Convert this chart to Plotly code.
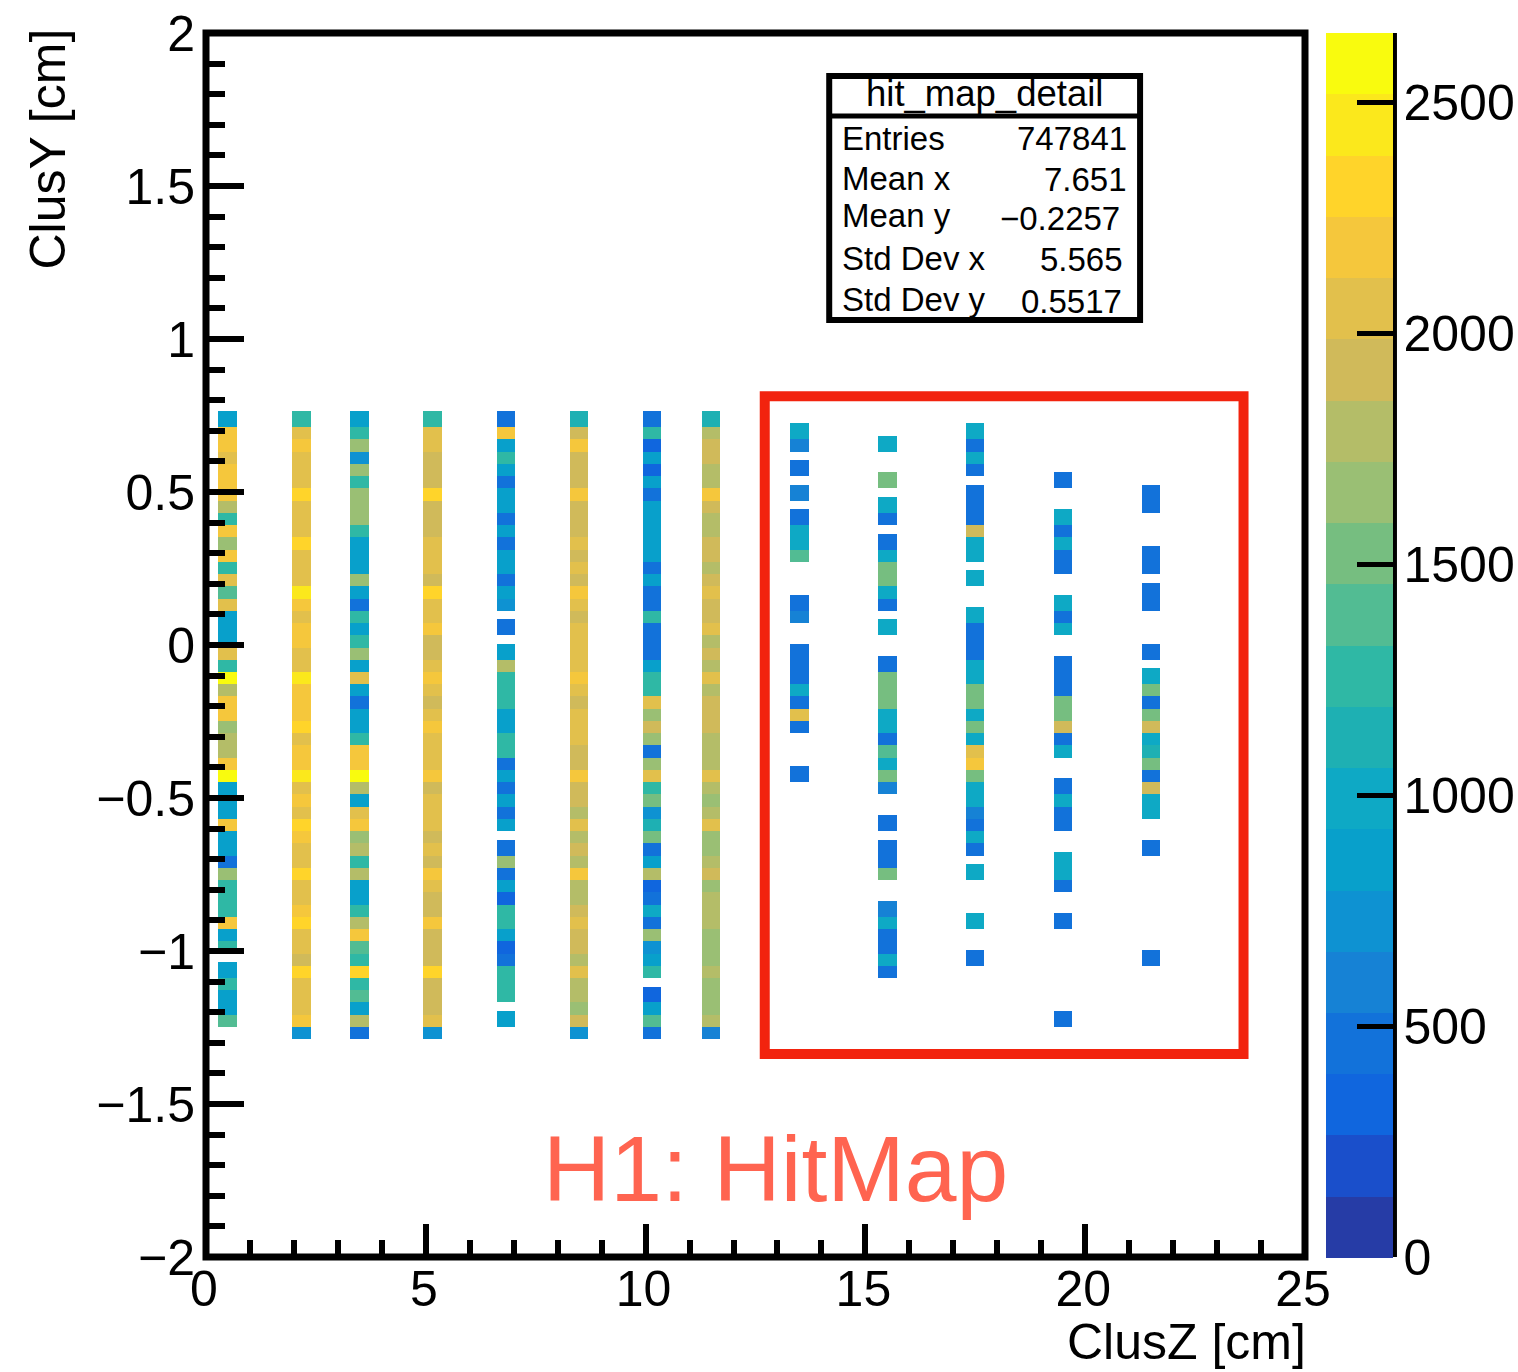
import plotly.graph_objects as go

W, H = 1518, 1372
L, R, T, B = 205.5, 1305.0, 33.0, 1257.5
FONT = "Liberation Sans"

# Detector columns (ClusZ, cm) and counts per ClusY row (top row first)
column_z = [0.49, 2.17, 3.49, 5.15, 6.83, 8.49, 10.15, 11.49, 13.5, 15.5, 17.5, 19.5, 21.5]
n = None
col_01 = [860,2190,2190,2055,2190,2190,2190,1790,1260,2190,1660,2190,1260,2055,1390,2055,860,860,860,2055,1260,2585,1790,2190,2190,1660,1790,1790,2190,2585,860,860,860,2190,860,860,465,1660,1260,1260,1260,2190,860,1260,n,860,1260,860,860,1390,n]
col_02 = [1260,2055,2190,2055,2055,2055,2320,2055,2055,2055,2320,2055,2055,2055,2455,2190,2055,2190,2190,2055,2055,2455,2190,2190,2190,2320,2055,2190,2190,2455,2055,2190,2055,2320,2190,2055,2055,2320,2055,2055,2190,2320,2055,2055,1925,2320,2055,2055,2055,2190,730]
col_03 = [860,1260,1660,730,1660,1260,1660,1660,1660,1260,860,860,860,1660,860,465,1260,860,1260,1660,860,2055,860,465,860,860,1260,2190,2190,2585,1790,860,2055,2190,1660,1790,1260,1790,860,860,1260,1790,2190,1390,1260,2320,1260,1390,860,1790,465]
col_04 = [1260,2055,2055,1925,1925,1925,2320,1925,1925,1925,2055,2055,2055,1925,2320,2055,2055,2190,1925,1925,2055,2190,2055,1925,2055,2190,2055,2055,2055,2190,1925,2055,2055,2055,1925,2055,1925,2190,2055,1925,1925,2190,1925,1925,1925,2320,1925,1925,1925,2055,730]
col_05 = [465,2190,860,1260,860,465,860,860,465,860,465,860,860,465,860,730,n,465,n,860,1790,1260,1260,1260,860,860,1260,1260,465,860,465,860,465,860,n,465,1660,465,860,330,1260,1260,860,330,465,1260,1260,1260,n,860,n]
col_06 = [1125,1925,2190,1925,1925,1925,2190,1925,1925,1925,2055,1925,2055,1925,2190,2055,1925,2055,2055,2055,2055,2190,2055,1925,2055,2055,2055,1925,1925,2190,1925,1925,1790,2055,1790,1925,1790,2190,1790,1790,1925,2055,1925,1925,1790,2055,1790,1790,1660,1925,730]
col_07 = [465,1260,330,860,330,860,465,860,860,860,860,860,465,860,465,465,1260,465,465,465,860,1260,1260,2055,1660,1925,1660,465,1660,2055,1260,1525,730,1125,1525,465,860,1790,330,465,995,465,1660,730,860,1260,n,330,860,1390,465]
col_08 = [1125,1790,1925,1925,1790,1790,2190,1925,1790,1790,1925,1925,1790,1925,2055,1925,1925,2055,1790,1925,1790,2055,1790,1925,1925,1925,1790,1790,1790,2055,1790,1660,1790,2055,1660,1660,1790,1925,1660,1790,1790,1790,1660,1660,1660,1790,1660,1660,1660,1790,595]
col_09 = [n,995,595,n,465,n,595,n,465,995,995,1390,n,n,n,465,595,n,n,465,465,465,995,465,2055,465,n,n,n,465,n,n,n,n,n,n,n,n,n,n,n,n,n,n,n,n,n,n,n,n,n]
col_10 = [n,n,995,n,n,1525,n,995,465,n,465,995,1525,1525,995,465,n,995,n,n,465,1525,1525,1525,995,995,465,1390,995,1525,595,n,n,465,n,465,465,1525,n,n,595,995,465,465,995,465,n,n,n,n,n]
col_11 = [n,995,465,995,465,n,465,465,465,1925,995,995,n,995,n,n,995,465,465,465,995,995,1525,1525,995,1525,995,2055,2190,1525,995,995,595,465,995,465,n,995,n,n,n,995,n,n,465,n,n,n,n,n,n]
col_12 = [n,n,n,n,n,465,n,n,995,465,995,465,465,n,n,995,465,995,n,n,465,465,465,1525,1525,1925,465,995,n,n,465,995,465,465,n,n,995,995,465,n,n,465,n,n,n,n,n,n,n,465,n]
col_13 = [n,n,n,n,n,n,465,465,n,n,n,465,465,n,465,465,n,n,n,465,n,995,1525,465,1525,1925,995,1125,1525,465,1925,995,995,n,n,465,n,n,n,n,n,n,n,n,465,n,n,n,n,n,n]
columns = [col_01, col_02, col_03, col_04, col_05, col_06, col_07, col_08, col_09, col_10, col_11, col_12, col_13]

row_pitch = 0.04
row_top = 0.7640
cell_height = 0.0522
cell_width = 0.416

# 20-level palette, bottom to top of the colour bar
palette = ["#263CA6","#1A4FCB","#1066DE","#1272DA","#1682D5","#0E92D2","#08A0CB","#0EA9C5","#1EB0B3","#2FB8A5",
           "#52BC93","#76BE80","#9ABF74","#B4BD68","#D0BA5A","#E2C04C","#F5C73C","#FFD42A","#FBE81C","#F9FB0E"]
z_max = 2652
scale = []
for i, c in enumerate(palette):
    scale += [[i / 20, c], [(i + 1) / 20, c]]

stats_title = "hit_map_detail"
stats_names = ["Entries", "Mean x", "Mean y", "Std Dev x", "Std Dev y"]
stats_values = ["747841", "7.651", "\u22120.2257", "5.565", "0.5517"]


def px(x):
    return (x - L) / (R - L)


def py(y):
    return (B - y) / (B - T)


fig = go.Figure()
for z, counts in zip(column_z, columns):
    rows = [k for k, v in enumerate(counts) if v is not None][::-1]  # upper cells paint over lower ones
    fig.add_trace(go.Bar(
        x=[z] * len(rows),
        y=[cell_height] * len(rows),
        base=[row_top - row_pitch * k - cell_height for k in rows],
        width=cell_width,
        marker=dict(color=[counts[k] for k in rows], coloraxis="coloraxis", line=dict(width=0)),
        showlegend=False,
    ))

shapes = [
    dict(type="rect", xref="paper", yref="paper", x0=0, x1=1, y0=0, y1=1, line=dict(color="black", width=7), layer="above"),
    dict(type="line", xref="paper", yref="paper", x0=px(1394), x1=px(1394), y0=0, y1=1, line=dict(color="black", width=6), layer="above"),
    dict(type="rect", xref="paper", yref="paper", x0=px(764.5), x1=px(1243.5), y0=py(1054.5), y1=py(396.5), line=dict(color="#F2230E", width=10), layer="above"),
    dict(type="rect", xref="paper", yref="paper", x0=px(829), x1=px(1140), y0=py(320), y1=py(76), line=dict(color="black", width=6), fillcolor="white", layer="above"),
    dict(type="line", xref="paper", yref="paper", x0=px(829), x1=px(1140), y0=py(116), y1=py(116), line=dict(color="black", width=5), layer="above"),
]


def note(text, x, y, size, anchor="left", color="black", angle=0, yanchor="middle"):
    return dict(text=text, xref="paper", yref="paper", x=px(x), y=py(y), xanchor=anchor, yanchor=yanchor,
                showarrow=False, textangle=angle, font=dict(family=FONT, size=size, color=color))


annotations = [
    note("ClusZ [cm]", 1308, 1343, 50, "right"),
    note("ClusY [cm]", 47, 149, 50, "center", angle=-90),
    note("H1: HitMap", 775, 1169, 93, "center", "#FF6450"),
    note(stats_title, 984, 94, 36.5, "center"),
]
name_y = [139, 179, 216, 259, 300]
value_y = [139, 180, 219, 260, 302]
value_x = [1129, 1129, 1122, 1125, 1124]
for nm, v, y0, y1, x1 in zip(stats_names, stats_values, name_y, value_y, value_x):
    annotations.append(note(nm, 840, y0, 33))
    annotations.append(note(v, x1, y1, 33, "right"))

fig.update_layout(
    width=W, height=H,
    margin=dict(l=L, r=W - R, t=T, b=H - B, pad=0, autoexpand=False),
    paper_bgcolor="white", plot_bgcolor="white",
    barmode="overlay", bargap=0,
    showlegend=False,
    font=dict(family=FONT, size=50, color="black"),
    coloraxis=dict(
        cmin=0, cmax=z_max, colorscale=scale,
        colorbar=dict(
            x=px(1326), xanchor="left", xpad=0, y=0.5, yanchor="middle", ypad=0,
            lenmode="pixels", len=B - T, thicknessmode="pixels", thickness=67,
            outlinewidth=0, tick0=0, dtick=500, ticks="inside", ticklen=36, tickwidth=5, tickcolor="black",
            tickfont=dict(family=FONT, size=50, color="black"),
        ),
    ),
    xaxis=dict(range=[0, 25], tick0=0, dtick=5, ticks="inside", ticklen=33, tickwidth=6, tickcolor="black",
               showgrid=False, zeroline=False, showline=False, automargin=False,
               ticklabelstandoff=-2, ticklabelshift=-2,
               tickfont=dict(family=FONT, size=50, color="black"),
               minor=dict(dtick=1, ticks="inside", ticklen=17, tickwidth=6, tickcolor="black", showgrid=False)),
    yaxis=dict(range=[-2, 2], tick0=-2, dtick=0.5, ticks="inside", ticklen=38, tickwidth=6, tickcolor="black",
               showgrid=False, zeroline=False, showline=False, automargin=False, ticklabelstandoff=10,
               tickfont=dict(family=FONT, size=50, color="black"),
               minor=dict(dtick=0.1, ticks="inside", ticklen=19, tickwidth=6, tickcolor="black", showgrid=False)),
    shapes=shapes,
    annotations=annotations,
)

fig.write_html("out.html", config=dict(displayModeBar=False),
               post_script="document.body.style.margin='0';document.documentElement.style.overflow='hidden';")
